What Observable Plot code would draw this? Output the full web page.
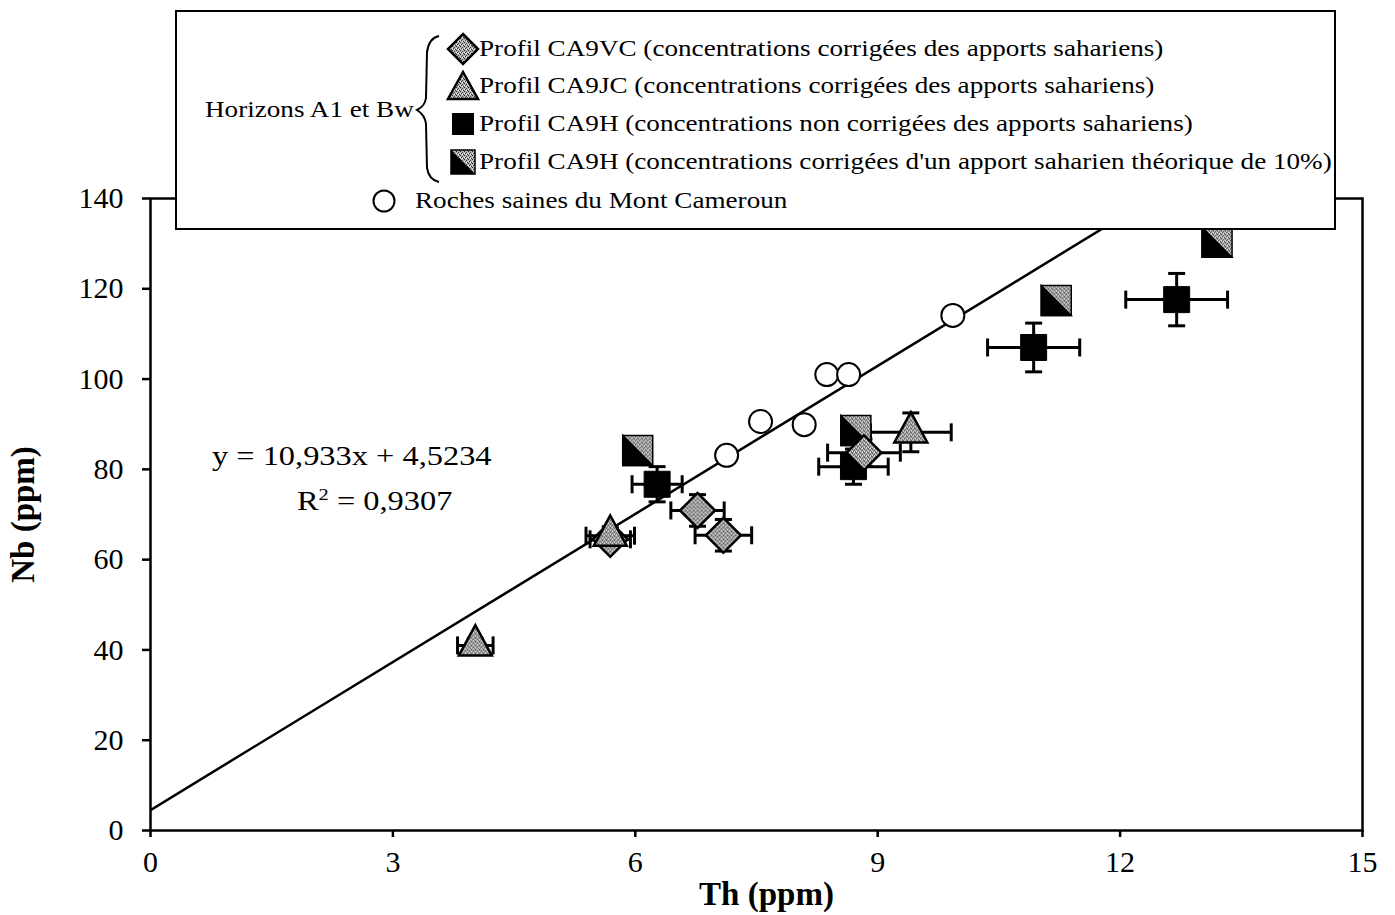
<!DOCTYPE html>
<html>
<head>
<meta charset="utf-8">
<script src="https://cdn.jsdelivr.net/npm/d3@7"></script>
<script src="https://cdn.jsdelivr.net/npm/@observablehq/plot@0.6"></script>
<style>
  body { margin: 0; background: white; }
  #wrap { position: relative; width: 1395px; height: 915px; font-family: "Liberation Serif", "Times New Roman", serif; color: black; }
  #legend { position: absolute; left: 175px; top: 10px; width: 1157px; height: 216px; border: 2.5px solid black; background: white; }
  .lt { position: absolute; font-size: 23px; white-space: nowrap; transform-origin: left center; line-height: 1; }
  .ls { position: absolute; overflow: visible; }
  .eq { position: absolute; font-size: 27px; white-space: nowrap; line-height: 1; transform-origin: left center; }
</style>
</head>
<body>
<div id="wrap"></div>
<script>
// ---- data ----
const xTicks = [0, 3, 6, 9, 12, 15];
const yTicks = [0, 20, 40, 60, 80, 100, 120, 140];

// Roches saines du Mont Cameroun
const rockTh = [7.13, 7.55, 8.09, 8.37, 8.64, 9.93];
const rockNb = [83.1, 90.6, 89.9, 101.0, 101.0, 114.1];

// Profil CA9VC (diamonds)
const vcTh = [5.69, 6.77, 7.09, 8.83];
const vcNb = [64.5, 70.9, 65.4, 83.7];
const vcErrTh = [0.25, 0.33, 0.35, 0.45];
const vcErrNb = [2.0, 3.5, 3.5, 3.0];

// Profil CA9JC (triangles)
const jcTh = [4.02, 5.69, 9.41];
const jcNb = [41.0, 65.3, 88.2];
const jcErrTh = [0.22, 0.30, 0.50];
const jcErrNb = [1.5, 2.0, 4.3];

// Profil CA9H non corrigées (black squares)
const hTh = [6.27, 8.70, 10.93, 12.70];
const hNb = [76.7, 80.6, 107.0, 117.6];
const hErrTh = [0.31, 0.43, 0.57, 0.63];
const hErrNb = [3.9, 3.9, 5.4, 5.8];

// Profil CA9H corrigées 10% (half squares)
const hcTh = [6.03, 8.73, 11.21, 13.20];
const hcNb = [84.2, 88.6, 117.4, 130.3];

// regression
const slope = 10.933, intercept = 4.5234;
const regTh = [0, 15];

// ---- build ----
function pts(th, nb, eth, enb) {
  return th.map((x, i) => ({x, y: nb[i], ex: eth ? eth[i] : 0, ey: enb ? enb[i] : 0}));
}
const rocks = pts(rockTh, rockNb);
const vc = pts(vcTh, vcNb, vcErrTh, vcErrNb);
const jc = pts(jcTh, jcNb, jcErrTh, jcErrNb);
const h = pts(hTh, hNb, hErrTh, hErrNb);
const hc = pts(hcTh, hcNb);
const errs = [...h, ...vc, ...jc];
const reg = regTh.map(x => ({x, y: slope * x + intercept}));

const halfTri = {draw(ctx, size) { const w = Math.sqrt(size) / 2; ctx.moveTo(-w, -w); ctx.lineTo(w, w); ctx.lineTo(-w, w); ctx.closePath(); }};
const tri = {draw(ctx, size) { const s = Math.sqrt(size); const hh = s * 0.92; ctx.moveTo(0, -hh * 2 / 3); ctx.lineTo(s / 2, hh / 3); ctx.lineTo(-s / 2, hh / 3); ctx.closePath(); }};
const vCap = {draw(ctx, size) { const a = Math.sqrt(size) / 2; ctx.moveTo(0, -a); ctx.lineTo(0, a); }};
const hCap = {draw(ctx, size) { const a = Math.sqrt(size) / 2; ctx.moveTo(-a, 0); ctx.lineTo(a, 0); }};
const rp = s => s / Math.sqrt(Math.PI);

const STIP = "url(#stip)";
const sw = 3;

const plot = Plot.plot({
  width: 1395, height: 915,
  marginLeft: 150, marginRight: 33, marginTop: 198, marginBottom: 85,
  style: {fontFamily: "'Liberation Serif', 'Times New Roman', serif", fontSize: "30px", color: "black", background: "white", overflow: "visible"},
  x: {domain: [0, 15]},
  y: {domain: [0, 140]},
  marks: [
    Plot.axisX({ticks: xTicks, tickSize: 7, tickPadding: 13, strokeWidth: 2.5, label: "Th (ppm)", labelAnchor: "center", labelOffset: 74, labelArrow: "none", tickFormat: d => String(d)}),
    Plot.axisY({ticks: yTicks, tickSize: 8, tickPadding: 19, strokeWidth: 2.5, label: "Nb (ppm)", labelAnchor: "center", labelOffset: 140, labelArrow: "none", tickFormat: d => String(d)}),
    Plot.frame({stroke: "black", strokeWidth: 2.5}),
    Plot.line(reg, {x: "x", y: "y", stroke: "black", strokeWidth: 2.5, clip: true}),
    // error bars
    Plot.link(errs.filter(d => d.ex > 0), {x1: d => d.x - d.ex, x2: d => d.x + d.ex, y1: "y", y2: "y", stroke: "black", strokeWidth: sw}),
    Plot.link(errs.filter(d => d.ey > 0), {x1: "x", x2: "x", y1: d => d.y - d.ey, y2: d => d.y + d.ey, stroke: "black", strokeWidth: sw}),
    Plot.dot(errs.filter(d => d.ex > 0), {x: d => d.x - d.ex, y: "y", symbol: vCap, r: rp(18), fill: "none", stroke: "black", strokeWidth: sw}),
    Plot.dot(errs.filter(d => d.ex > 0), {x: d => d.x + d.ex, y: "y", symbol: vCap, r: rp(18), fill: "none", stroke: "black", strokeWidth: sw}),
    Plot.dot(errs.filter(d => d.ey > 0), {x: "x", y: d => d.y - d.ey, symbol: hCap, r: rp(17), fill: "none", stroke: "black", strokeWidth: sw}),
    Plot.dot(errs.filter(d => d.ey > 0), {x: "x", y: d => d.y + d.ey, symbol: hCap, r: rp(17), fill: "none", stroke: "black", strokeWidth: sw}),
    // points
    Plot.dot(rocks, {x: "x", y: "y", symbol: "circle", r: 11.5, fill: "white", stroke: "black", strokeWidth: 2}),
    Plot.dot(h, {x: "x", y: "y", symbol: "square", r: rp(26), fill: "black", stroke: "black", strokeWidth: 1}),
    Plot.dot(hc, {x: "x", y: "y", symbol: "square", r: rp(30), fill: STIP, stroke: "black", strokeWidth: 1.5}),
    Plot.dot(hc, {x: "x", y: "y", symbol: halfTri, r: rp(30), fill: "black", stroke: "black", strokeWidth: 1.5}),
    Plot.dot(vc, {x: "x", y: "y", symbol: "diamond2", r: rp(17.5 / 0.62625), fill: STIP, stroke: "black", strokeWidth: 2.5}),
    Plot.dot(jc, {x: "x", y: "y", symbol: tri, r: rp(33), fill: STIP, stroke: "black", strokeWidth: 2.5})
  ]
});

d3.select(plot).insert("defs", ":first-child").html(
  '<pattern id="stip" width="4" height="4" patternUnits="userSpaceOnUse">' +
  '<rect width="4" height="4" fill="#b4b4b4"/>' +
  '<rect x="0" y="0" width="1" height="1" fill="#222"/>' +
  '<rect x="2" y="1" width="1" height="1" fill="#444"/>' +
  '<rect x="1" y="2" width="1" height="1" fill="#333"/>' +
  '<rect x="3" y="3" width="1" height="1" fill="#222"/>' +
  '<rect x="2" y="3" width="1" height="1" fill="#fff"/>' +
  '<rect x="0" y="2" width="1" height="1" fill="#eee"/>' +
  '</pattern>');
d3.select(plot).selectAll('[aria-label="x-axis label"] text, [aria-label="y-axis label"] text')
  .style("font-weight", "bold").style("font-size", "33px");
d3.select(plot).selectAll('[aria-label="x-axis label"] text').attr("dx", 10);

const wrap = document.getElementById("wrap");
wrap.appendChild(plot);

// ---- legend (HTML overlay) ----
const legend = document.createElement("div");
legend.id = "legend";
wrap.appendChild(legend);

const legendItems = [
  {sym: "diamond", text: "Profil CA9VC (concentrations corrigées des apports sahariens)"},
  {sym: "triangle", text: "Profil CA9JC (concentrations corrigées des apports sahariens)"},
  {sym: "square", text: "Profil CA9H (concentrations non corrigées des apports sahariens)"},
  {sym: "half", text: "Profil CA9H (concentrations corrigées d'un apport saharien théorique de 10%)"}
];
const rowY = [37, 74, 112, 150]; // centers, relative to legend box
const symSvg = {
  diamond: '<polygon points="15,0 30,15 15,30 0,15" fill="url(#stip)" stroke="black" stroke-width="2.5"/>',
  triangle: '<polygon points="15,1 30,28 0,28" fill="url(#stip)" stroke="black" stroke-width="2.5"/>',
  square: '<rect x="4" y="4" width="22" height="22" fill="black"/>',
  half: '<rect x="3" y="3" width="24" height="24" fill="url(#stip)" stroke="black" stroke-width="1.5"/><polygon points="3,3 27,27 3,27" fill="black"/>'
};
legendItems.forEach((it, i) => {
  const s = document.createElement("div");
  s.className = "ls";
  s.style.left = "271px";
  s.style.top = (rowY[i] - 15) + "px";
  s.innerHTML = '<svg width="30" height="30" style="overflow:visible">' + symSvg[it.sym] + '</svg>';
  legend.appendChild(s);
  const t = document.createElement("div");
  t.className = "lt";
  t.textContent = it.text;
  t.style.left = "302px";
  t.style.top = (rowY[i] - 12) + "px";
  t.style.transform = "scaleX(1.18)";
  legend.appendChild(t);
});
// brace
const br = document.createElement("div");
br.className = "ls";
br.style.left = "238px"; br.style.top = "22px";
br.innerHTML = '<svg width="30" height="152"><path d="M24,2 Q14,4 12,18 L11,64 Q10,72 2,76 Q10,81 11,90 L12,134 Q14,146 24,148" fill="none" stroke="black" stroke-width="2"/></svg>';
legend.appendChild(br);
// Horizons label
const hz = document.createElement("div");
hz.className = "lt";
hz.textContent = "Horizons A1 et Bw";
hz.style.left = "28px"; hz.style.top = (98 - 12) + "px";
hz.style.transform = "scaleX(1.18)";
legend.appendChild(hz);
// Roches saines
const rs = document.createElement("div");
rs.className = "ls";
rs.style.left = "195px"; rs.style.top = (189 - 12) + "px";
rs.innerHTML = '<svg width="24" height="24"><circle cx="12" cy="12" r="10.5" fill="white" stroke="black" stroke-width="2"/></svg>';
legend.appendChild(rs);
const rt = document.createElement("div");
rt.className = "lt";
rt.textContent = "Roches saines du Mont Cameroun";
rt.style.left = "238px"; rt.style.top = (189 - 12) + "px";
rt.style.transform = "scaleX(1.18)";
legend.appendChild(rt);

// ---- equation annotation ----
const eq1 = document.createElement("div");
eq1.className = "eq";
eq1.textContent = "y = 10,933x + 4,5234";
eq1.style.left = "212px"; eq1.style.top = (457 - 14) + "px";
eq1.style.transform = "scaleX(1.2)";
wrap.appendChild(eq1);
const eq2 = document.createElement("div");
eq2.className = "eq";
eq2.innerHTML = "R<sup style='font-size:17px;vertical-align:10px'>2</sup> = 0,9307";
eq2.style.left = "297px"; eq2.style.top = (500 - 14) + "px";
eq2.style.transform = "scaleX(1.2)";
wrap.appendChild(eq2);
</script>
</body>
</html>
